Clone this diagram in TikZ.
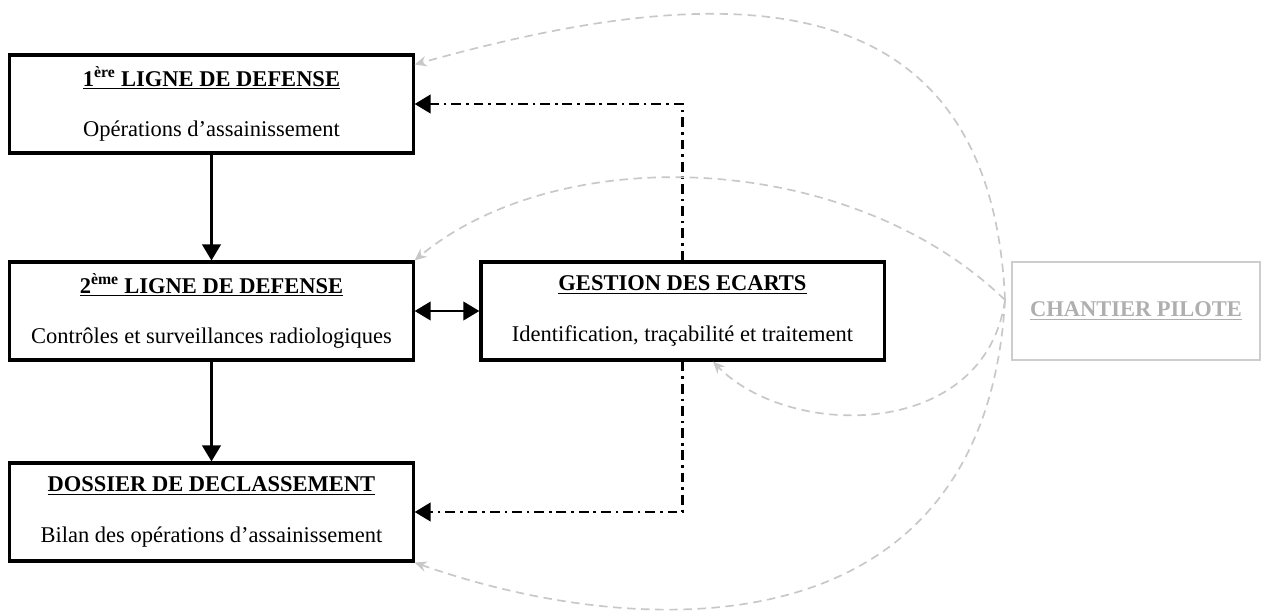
\documentclass[tikz,border=0pt]{standalone}
\usepackage{fontspec}
\setmainfont{Liberation Serif}
\usepackage{xcolor}
\usetikzlibrary{arrows.meta}
\definecolor{pilotclr}{RGB}{205,205,205}
\definecolor{pilottxt}{RGB}{175,175,175}
\definecolor{feedclr}{RGB}{200,200,200}
\tikzset{
    blk/.style={rectangle,draw=black,line width=2.2pt,minimum width=10.075cm,minimum height=2.45cm,align=center,inner sep=2pt,font=\fontsize{16}{19}\selectfont},
    pilot/.style={blk,draw=pilotclr,line width=1.3pt,minimum width=6.2cm,text=pilottxt},
    flow/.style={-{Triangle[length=4mm,width=4.6mm]},line width=1.8pt},
    twoway/.style={flow,{Triangle[length=4mm,width=4.6mm]}-{Triangle[length=4mm,width=4.6mm]}},
    ddline/.style={flow,line width=2pt,dash pattern=on 7pt off 3.5pt on 1.8pt off 3.5pt},
    feed/.style={-{Stealth[length=3mm,width=2.6mm]},draw=feedclr,line width=1.2pt,dash pattern=on 6pt off 4pt},
}
\newcommand{\hd}[1]{\underline{\textbf{#1}}}

\begin{document}
\begin{tikzpicture}[x=0.025cm,y=-0.025cm]
\useasboundingbox (0,0) rectangle (1263,611);
% boxes
\node[blk]   (L1) at (211.5,104) {\hd{1\textsuperscript{ère} LIGNE DE DEFENSE}\\[17pt] Opérations d’assainissement};
\node[blk]   (L2) at (211.5,311) {\hd{2\textsuperscript{ème} LIGNE DE DEFENSE}\\[17pt] Contrôles et surveillances radiologiques};
\node[blk]   (Dd) at (211.5,512) {\hd{DOSSIER DE DECLASSEMENT}\\[17pt] Bilan des opérations d’assainissement};
\node[blk]   (Ge) at (682.5,311) {\hd{GESTION DES ECARTS}\\[17pt] Identification, traçabilité et traitement};
\node[pilot] (Cp) at (1136,311) {\hd{CHANTIER PILOTE}};
\coordinate (src) at (1005,300);

% main flow
\draw[flow]   (L1) -- (L2);
\draw[flow]   (L2) -- (Dd);
\draw[twoway] (L2) -- (Ge);
\draw[ddline] (Ge.north) |- (L1.east);
\draw[ddline] (Ge.south) |- (Dd.east);

% feedback from the pilot site
\draw[feed] (src) .. controls (990,-40) and (700,-15) .. (L1.11);
\draw[feed] (src) .. controls (850,150) and (560,140) .. (L2.north east);
\draw[feed] (src) .. controls (985,440) and (790,440) .. (Ge.-59);
\draw[feed] (src) .. controls (985,650) and (650,645) .. (Dd.south east);
\end{tikzpicture}
\end{document}
